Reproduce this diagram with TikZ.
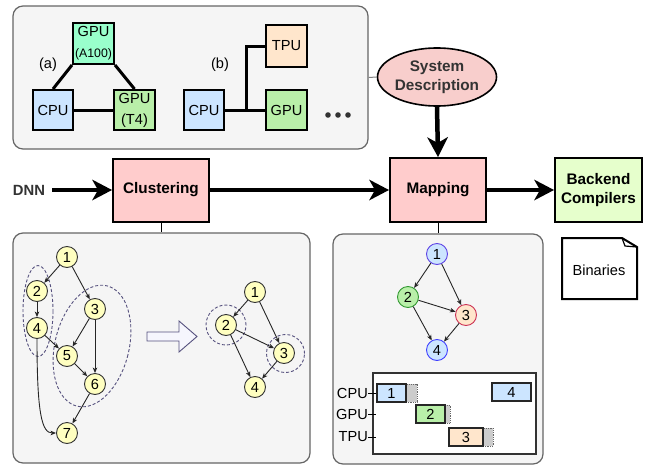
\documentclass[tikz,border=0pt]{standalone}
\usepackage{fontspec}
\setmainfont{Liberation Sans}
\usetikzlibrary{arrows.meta,shapes.geometric,calc}
\definecolor{panelfill}{HTML}{F5F5F5}
\definecolor{panelline}{HTML}{666666}
\definecolor{cpublue}{HTML}{CCE5FF}
\definecolor{gpugreen}{HTML}{B9EFA9}
\definecolor{mint}{HTML}{99FFCC}
\definecolor{tpupeach}{HTML}{FFE6CC}
\definecolor{pinkbox}{HTML}{FFCCCC}
\definecolor{pinkell}{HTML}{F8CECC}
\definecolor{backgreen}{HTML}{E6FFCC}
\definecolor{nodeyellow}{HTML}{FFFFC0}
\definecolor{dashpurple}{HTML}{56517E}
\definecolor{textgray}{HTML}{333333}
\definecolor{arrowfill}{HTML}{F6F6FD}
\definecolor{blueedge}{HTML}{5555FF}
\definecolor{greenedge}{HTML}{339933}
\definecolor{rededge}{HTML}{CC3355}
\definecolor{extgray}{HTML}{CCCCCC}
\begin{document}
\begin{tikzpicture}[x=1pt,y=-1pt,
  every node/.style={font=\fontsize{14.6}{21}\selectfont},
  panel/.style={draw=panelline, fill=panelfill, line width=1.2pt, rounded corners=10pt, inner sep=0pt},
  hwbox/.style={draw, line width=2pt, inner sep=0pt, align=center},
  hwline/.style={line width=3pt},
  stage/.style={draw, line width=2pt, fill=pinkbox, minimum width=96pt, minimum height=63pt, inner sep=0pt,
    font=\bfseries\fontsize{15.3}{19}\selectfont, align=center},
  bigarrow/.style={line width=4.5pt, -{Stealth[length=20pt,width=21pt,inset=6pt,line width=0pt]}},
  thinline/.style={line width=0.9pt},
  ynode/.style={circle, draw=black!80, line width=0.9pt, fill=nodeyellow, minimum size=21pt, inner sep=0pt},
  cnode/.style={circle, line width=0.9pt, minimum size=21pt, inner sep=0pt},
  sedge/.style={line width=0.9pt, draw=black!85, -{Stealth[length=5.5pt,width=4.5pt,inset=1.5pt]}},
  dashell/.style={draw=dashpurple, line width=0.9pt, dash pattern=on 3pt off 2pt},
  bar/.style={draw=black!85, line width=1.1pt, inner sep=0pt, minimum height=18pt},
  extbar/.style={fill=extgray, draw=black!60, line width=0.8pt, densely dotted}
]
\useasboundingbox (0,0) rectangle (648,466);

% ---------- top panel ----------
\node[panel, minimum width=355pt, minimum height=143pt] (top) at (190.5,77.5) {};
\node[hwbox, fill=mint, minimum width=41pt, minimum height=41pt] (A100) at (93.5,43.5)
  {GPU\\{\fontsize{12.3}{21}\selectfont(A100)}};
\node[hwbox, fill=cpublue, minimum width=40pt, minimum height=40pt] (CPUa) at (53,110) {CPU};
\node[hwbox, fill=gpugreen, minimum width=41pt, minimum height=40pt] (T4) at (134.5,110) {GPU\\(T4)};
\draw[hwline] (A100.south west) -- (CPUa.north);
\draw[hwline] (A100.south east) -- (T4.north);
\draw[hwline] (CPUa.east) -- (T4.west);
\node (la) at (48,65) {(a)};
\node (lb) at (220,65) {(b)};
\node[hwbox, fill=cpublue, minimum width=40pt, minimum height=40pt] (CPUb) at (204,110) {CPU};
\node[hwbox, fill=tpupeach, minimum width=41pt, minimum height=42pt] (TPU) at (286.5,46) {TPU};
\node[hwbox, fill=gpugreen, minimum width=41pt, minimum height=40pt] (GPUb) at (286.5,110) {GPU};
\draw[hwline] (CPUb.east) -- (GPUb.west);
\coordinate (jb) at (246,110);
\draw[hwline] (jb) |- (TPU.west);
\fill[black!80] (328,115) circle (2.8pt) (338,115) circle (2.8pt) (348,115) circle (2.8pt);

% ---------- system description ----------
\node[ellipse, draw, line width=1.6pt, fill=pinkell, minimum width=112pt, minimum height=58pt, inner sep=0pt,
  font=\bfseries\fontsize{15.3}{19}\selectfont, text=textgray, align=center] (sys) at (437,77) {System\\Description};
\draw[draw=gray, line width=1pt] (top.east) -- (sys.west);

% ---------- main flow ----------
\node[font=\bfseries\fontsize{14.8}{18}\selectfont, text=textgray, inner xsep=7pt, inner ysep=0pt] (dnn) at (29,190) {DNN};
\node[stage] (clu) at (161,190) {Clustering};
\node[stage, minimum height=64pt] (map) at (438,190) {Mapping};
\node[stage, fill=backgreen, minimum width=87pt, minimum height=64pt] (back) at (598.5,190) {Backend\\Compilers};
\draw[bigarrow] (dnn.east) -- (clu.west);
\draw[bigarrow] (clu.east) -- (map.west);
\draw[bigarrow] (map.east) -- (back.west);
\draw[bigarrow] (sys.south) -- (map.north);

% ---------- bottom panels ----------
\node[panel, minimum width=297pt, minimum height=230pt] (lp) at (161.5,348) {};
\node[panel, minimum width=210pt, minimum height=230pt] (rp) at (438,349) {};
\draw[thinline] (clu.south) -- (clu.south |- lp.north);
\draw[thinline] (map.south) -- (map.south |- rp.north);

% left graph
\draw[dashell] (38,311) ellipse [x radius=15, y radius=45.5];
\draw[dashell, rotate around={-14:(92,346)}] (92,346) ellipse [x radius=37, y radius=62];
\node[ynode] (L1) at (67,257) {1};
\node[ynode] (L2) at (37,291) {2};
\node[ynode] (L4) at (37,328) {4};
\node[ynode] (L3) at (95,309) {3};
\node[ynode] (L5) at (67,356) {5};
\node[ynode] (L6) at (95,384) {6};
\node[ynode] (L7) at (67,433) {7};
\draw[sedge] (L1) -- (L2);
\draw[sedge] (L1) -- (L3);
\draw[sedge] (L2) -- (L4);
\draw[sedge] (L4) -- (L5);
\draw[sedge] (L3) -- (L5);
\draw[sedge] (L3) -- (L6);
\draw[sedge] (L5) -- (L6);
\draw[sedge] (L6) -- (L7);
\draw[sedge] (L4.south) .. controls (37,415) and (42,433) .. (L7.west);

% hollow arrow
\draw[draw=dashpurple, fill=arrowfill, line width=0.9pt, line join=miter]
  (147,332) -- (179,332) -- (179,321) -- (197,336.5) -- (179,352) -- (179,341) -- (147,341) -- cycle;

% clustered graph
\draw[dashell] (226,325) circle (20pt);
\draw[dashell] (285.5,353.5) circle (19pt);
\node[ynode] (M1) at (255,292) {1};
\node[ynode] (M2) at (226,325) {2};
\node[ynode] (M3) at (284,353) {3};
\node[ynode] (M4) at (255,387) {4};
\draw[sedge] (M1) -- (M2);
\draw[sedge] (M1) -- (M3);
\draw[sedge] (M2) -- (M3);
\draw[sedge] (M2) -- (M4);
\draw[sedge] (M3) -- (M4);

% mapped graph
\node[cnode, draw=blueedge!80!violet, fill=cpublue] (R1) at (437,254) {1};
\node[cnode, draw=greenedge, fill=gpugreen] (R2) at (408,297) {2};
\node[cnode, draw=rededge, fill=tpupeach] (R3) at (466,315) {3};
\node[cnode, draw=blue!75, fill=cpublue] (R4) at (437,350) {4};
\draw[sedge] (R1) -- (R2);
\draw[sedge] (R1) -- (R3);
\draw[sedge] (R2) -- (R3);
\draw[sedge] (R2) -- (R4);
\draw[sedge] (R3) -- (R4);

% gantt
\draw[draw=black!80, fill=white, line width=1.2pt] (373,373) rectangle (536,454);
\node[anchor=east, inner sep=0pt] (gc) at (368,393) {CPU};
\node[anchor=east, inner sep=0pt] (gg) at (368,414) {GPU};
\node[anchor=east, inner sep=0pt] (gt) at (368,437) {TPU};
\draw[line width=0.9pt] (gc.east) -- ++(8,0);
\draw[line width=0.9pt] (gg.east) -- ++(8,0);
\draw[line width=0.9pt] (gt.east) -- ++(8,0);
\draw[extbar] (406,384) rectangle (417,402);
\draw[extbar] (445,405) rectangle (450,423);
\draw[extbar] (483,428) rectangle (493,446);
\node[bar, fill=cpublue, minimum width=29pt] (b1) at (391.5,393) {1};
\node[bar, fill=cpublue, minimum width=39pt] (b4) at (511.5,392) {4};
\node[bar, fill=gpugreen, minimum width=29pt] (b2) at (430.5,414) {2};
\node[bar, fill=tpupeach, minimum width=34pt] (b3) at (466,437) {3};

% binaries
\draw[line width=2pt, line join=miter, fill=white] (562,238) -- (622,238) -- (637,247) -- (637,299) -- (562,299) -- cycle;
\draw[line width=1.2pt, line join=miter] (622,238) -- (625,246) -- (637,247);
\node (bin) at (599,270) {Binaries};
\end{tikzpicture}
\end{document}
